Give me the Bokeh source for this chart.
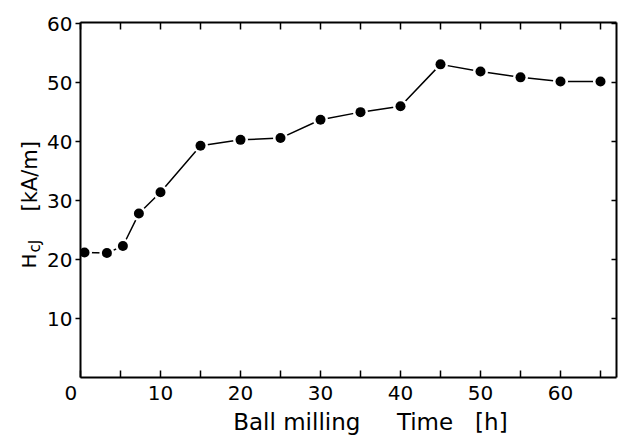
import math
from bokeh.plotting import figure
from bokeh.layouts import row
from bokeh.models import LinearAxis, FixedTicker, Range1d, ColumnDataSource
from bokeh.core.properties import value
from bokeh.embed import file_html
from bokeh.resources import INLINE

# Data
time_h = [0.5, 3.3, 5.3, 7.3, 10, 15, 20, 25, 30, 35, 40, 45, 50, 55, 60, 65]
hcj = [21.2, 21.1, 22.3, 27.8, 31.4, 39.3, 40.3, 40.6, 43.7, 45.0, 46.0, 53.1, 51.9, 50.9, 50.2, 50.2]

x_major = [0, 10, 20, 30, 40, 50, 60]
x_minor = [5, 15, 25, 35, 45, 55, 65]
y_major = [10, 20, 30, 40, 50, 60]

NB = "\u00a0"
x_title = NB * 6 + "Ball milling" + NB * 5 + "Time" + NB * 3 + "[h]"

FONT = "DejaVu Sans"

yr = Range1d(0, 60.2)

p = figure(frame_width=536, frame_height=355, min_border_left=36, min_border_top=22,
           min_border_right=6, min_border_bottom=60,
           x_range=Range1d(0, 67), y_range=yr,
           output_backend="svg", toolbar_location=None)
p.outline_line_color = None
p.xgrid.visible = False
p.ygrid.visible = False

# bottom axis
xa = p.xaxis[0]
xa.ticker = FixedTicker(ticks=x_major, minor_ticks=x_minor)
xa.axis_line_width = 2
xa.major_tick_in = 7
xa.major_tick_out = 0
xa.minor_tick_in = 7
xa.minor_tick_out = 0
xa.major_tick_line_width = 1.5
xa.minor_tick_line_width = 1.5
xa.major_label_standoff = 3
xa.major_label_text_font = FONT
xa.major_label_text_font_size = "20px"
xa.major_label_text_color = "black"
xa.major_label_overrides = {0: "0" + NB * 3}
xa.axis_label = x_title
xa.axis_label_text_font = FONT
xa.axis_label_text_font_size = "23px"
xa.axis_label_text_font_style = "normal"
xa.axis_label_text_color = "black"
xa.axis_label_standoff = 1

# left axis
ya = p.yaxis[0]
ya.ticker = FixedTicker(ticks=y_major, minor_ticks=[])
ya.axis_line_width = 2
ya.major_tick_in = 0
ya.major_tick_out = 5
ya.major_tick_line_width = 1.5
ya.minor_tick_in = 0
ya.minor_tick_out = 0
ya.major_label_standoff = 3
ya.major_label_text_font = FONT
ya.major_label_text_font_size = "20px"
ya.major_label_text_color = "black"

# right axis
ra = LinearAxis(ticker=FixedTicker(ticks=y_major, minor_ticks=[]))
ra.axis_line_width = 2
ra.major_tick_in = 5
ra.major_tick_out = 0
ra.major_tick_line_width = 1.5
ra.minor_tick_in = 0
ra.minor_tick_out = 0
ra.major_label_overrides = {t: "" for t in y_major}
ra.major_label_standoff = 0
p.add_layout(ra, "right")

# top axis
ta = LinearAxis(ticker=FixedTicker(ticks=x_major, minor_ticks=x_minor))
ta.axis_line_width = 2
ta.major_tick_in = 7
ta.major_tick_out = 0
ta.minor_tick_in = 7
ta.minor_tick_out = 0
ta.major_tick_line_width = 1.5
ta.minor_tick_line_width = 1.5
ta.major_label_overrides = {t: "" for t in x_major}
ta.major_label_standoff = 0
p.add_layout(ta, "above")

# data
p.line(time_h, hcj, line_color="black", line_width=1.5)
p.scatter(time_h, hcj, size=15, fill_color="white", line_color=None)
p.scatter(time_h, hcj, size=10, fill_color="black", line_color=None)

# y-axis title in a narrow companion figure (shares the y range)
yfig = figure(frame_width=44, frame_height=355, min_border_left=0, min_border_right=0,
              min_border_top=22, min_border_bottom=60,
              x_range=Range1d(0, 44), y_range=yr, x_axis_type=None, y_axis_type=None,
              output_backend="svg", toolbar_location=None)
yfig.outline_line_color = None
yfig.xgrid.visible = False
yfig.ygrid.visible = False

title_src = ColumnDataSource(dict(
    x=[28, 34, 29],
    y=[18.5, 21.2, 28.15],
    t=["H", "cJ", "[kA/m]"],
    s=["20px", "15px", "21px"],
))
yfig.text(x="x", y="y", text="t", source=title_src, angle=math.pi / 2,
          text_font=value(FONT), text_font_size="s", text_color="black",
          text_align="left", text_baseline="alphabetic")

layout = row(yfig, p)
open("out.html", "w").write(file_html(layout, INLINE))
